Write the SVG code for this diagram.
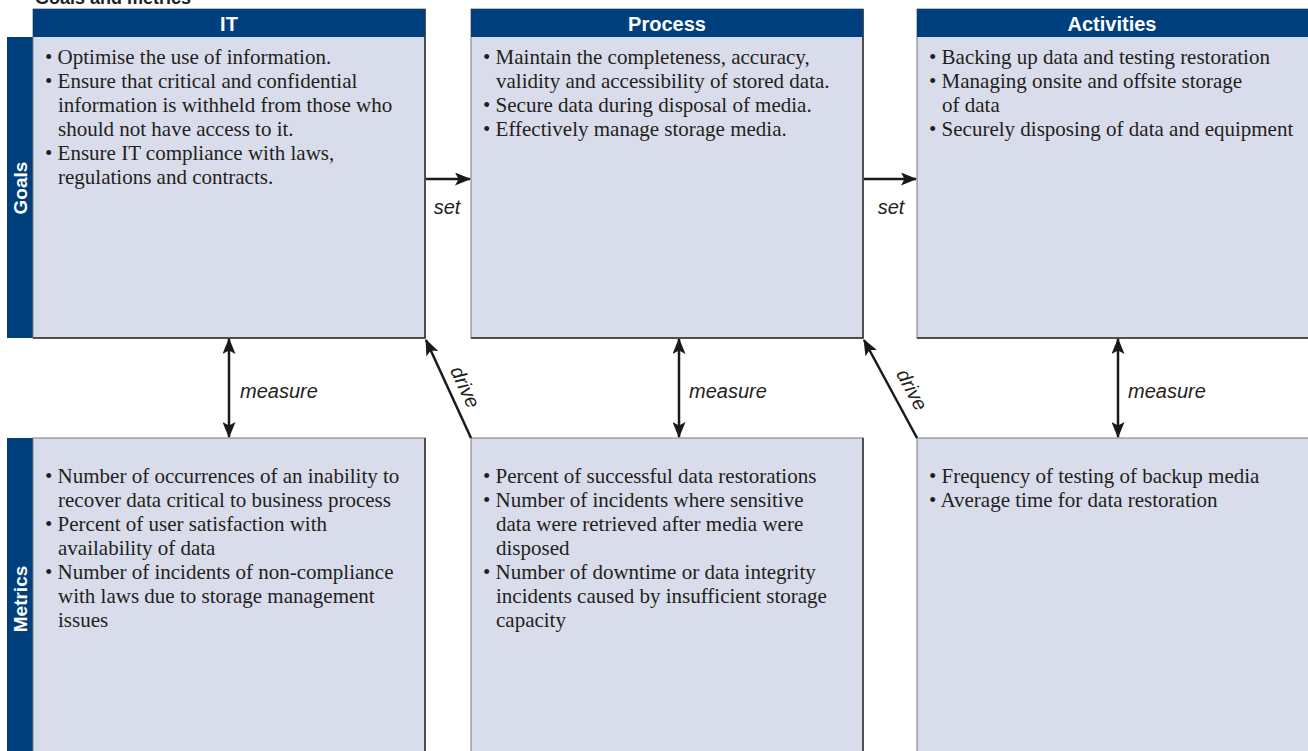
<svg xmlns="http://www.w3.org/2000/svg" width="1308" height="751" viewBox="0 0 1308 751">
<style>
.body{fill:#d9dcea;stroke:#7a7a7a;stroke-width:1}
.edge{stroke:#2e2e2e;stroke-width:1.5;fill:none}
.hdr{fill:#003f7d}
.hdrt{font-family:"Liberation Sans",Arial,sans-serif;font-weight:bold;font-size:20px;fill:#fff;text-anchor:middle}
.side{font-family:"Liberation Sans",Arial,sans-serif;font-weight:bold;font-size:19px;fill:#fff;text-anchor:middle}
.t{font-family:"Liberation Serif","Times New Roman",serif;font-size:21px;fill:#231f20}
.lbl{font-family:"Liberation Sans",Arial,sans-serif;font-style:italic;font-size:20px;fill:#231f20}
.ln{stroke:#1a1a1a;stroke-width:2.5;fill:none}
</style>
<defs>
<marker id="ah" viewBox="0 0 16 13" refX="15" refY="6.5" markerWidth="16" markerHeight="13" markerUnits="userSpaceOnUse" orient="auto-start-reverse">
<path d="M0,0 L16,6.5 L0,13 L3.5,6.5 Z" fill="#1a1a1a"/>
</marker>
</defs>
<text x="35" y="4" font-family="Liberation Sans,Arial,sans-serif" font-weight="bold" font-size="18" fill="#231f20">Goals and metrics</text>

<g id="side-goals">
<rect x="7" y="37" width="26" height="301" class="hdr"/>
<text class="side" transform="translate(27,188) rotate(-90)">Goals</text>
</g>
<g id="side-metrics">
<rect x="7" y="438" width="26" height="313" class="hdr"/>
<text class="side" transform="translate(27,599) rotate(-90)">Metrics</text>
</g>

<g id="it-goals">
<rect x="33" y="9" width="392" height="329" class="body"/>
<path d="M425,9 V338 H33" class="edge"/>
<rect x="33" y="9" width="392" height="28" class="hdr"/>
<text x="229" y="31" class="hdrt">IT</text>
<text class="t">
<tspan x="45" y="64">• Optimise the use of information.</tspan>
<tspan x="45" y="88">• Ensure that critical and confidential</tspan>
<tspan x="58" y="112">information is withheld from those who</tspan>
<tspan x="58" y="136">should not have access to it.</tspan>
<tspan x="45" y="160">• Ensure IT compliance with laws,</tspan>
<tspan x="58" y="184">regulations and contracts.</tspan>
</text>
</g>

<g id="process-goals">
<rect x="471" y="9" width="392" height="329" class="body"/>
<path d="M863,9 V338 H471" class="edge"/>
<rect x="471" y="9" width="392" height="28" class="hdr"/>
<text x="667" y="31" class="hdrt">Process</text>
<text class="t">
<tspan x="483" y="64">• Maintain the completeness, accuracy,</tspan>
<tspan x="496" y="88">validity and accessibility of stored data.</tspan>
<tspan x="483" y="112">• Secure data during disposal of media.</tspan>
<tspan x="483" y="136">• Effectively manage storage media.</tspan>
</text>
</g>

<g id="activities-goals">
<rect x="917" y="9" width="392" height="329" class="body"/>
<path d="M917,338 H1309" class="edge"/>
<rect x="917" y="9" width="392" height="28" class="hdr"/>
<text x="1112" y="31" class="hdrt">Activities</text>
<text class="t">
<tspan x="929" y="64">• Backing up data and testing restoration</tspan>
<tspan x="929" y="88">• Managing onsite and offsite storage</tspan>
<tspan x="942" y="112">of data</tspan>
<tspan x="929" y="136">• Securely disposing of data and equipment</tspan>
</text>
</g>

<g id="it-metrics">
<rect x="33" y="438" width="392" height="320" class="body"/>
<path d="M425,438 V752" class="edge"/>
<text class="t">
<tspan x="45" y="483">• Number of occurrences of an inability to</tspan>
<tspan x="58" y="507">recover data critical to business process</tspan>
<tspan x="45" y="531">• Percent of user satisfaction with</tspan>
<tspan x="58" y="555">availability of data</tspan>
<tspan x="45" y="579">• Number of incidents of non-compliance</tspan>
<tspan x="58" y="603">with laws due to storage management</tspan>
<tspan x="58" y="627">issues</tspan>
</text>
</g>

<g id="process-metrics">
<rect x="471" y="438" width="392" height="320" class="body"/>
<path d="M863,438 V752" class="edge"/>
<text class="t">
<tspan x="483" y="483">• Percent of successful data restorations</tspan>
<tspan x="483" y="507">• Number of incidents where sensitive</tspan>
<tspan x="496" y="531">data were retrieved after media were</tspan>
<tspan x="496" y="555">disposed</tspan>
<tspan x="483" y="579">• Number of downtime or data integrity</tspan>
<tspan x="496" y="603">incidents caused by insufficient storage</tspan>
<tspan x="496" y="627">capacity</tspan>
</text>
</g>

<g id="activities-metrics">
<rect x="917" y="438" width="392" height="320" class="body"/>
<text class="t">
<tspan x="929" y="483">• Frequency of testing of backup media</tspan>
<tspan x="929" y="507">• Average time for data restoration</tspan>
</text>
</g>

<g id="connectors">
<line x1="426" y1="179" x2="470" y2="179" class="ln" marker-end="url(#ah)"/>
<text x="447" y="214" class="lbl" text-anchor="middle">set</text>
<line x1="864" y1="179" x2="916" y2="179" class="ln" marker-end="url(#ah)"/>
<text x="891" y="214" class="lbl" text-anchor="middle">set</text>

<line x1="229" y1="339" x2="229" y2="437" class="ln" marker-start="url(#ah)" marker-end="url(#ah)"/>
<text x="240" y="398" class="lbl">measure</text>
<line x1="679" y1="339" x2="679" y2="437" class="ln" marker-start="url(#ah)" marker-end="url(#ah)"/>
<text x="689" y="398" class="lbl">measure</text>
<line x1="1118" y1="339" x2="1118" y2="437" class="ln" marker-start="url(#ah)" marker-end="url(#ah)"/>
<text x="1128" y="398" class="lbl">measure</text>

<line x1="471" y1="438" x2="426" y2="340" class="ln" marker-end="url(#ah)"/>
<text class="lbl" text-anchor="middle" transform="translate(459,390) rotate(65)">drive</text>
<line x1="917" y1="438" x2="864" y2="340" class="ln" marker-end="url(#ah)"/>
<text class="lbl" text-anchor="middle" transform="translate(906,393) rotate(62)">drive</text>
</g>
</svg>
